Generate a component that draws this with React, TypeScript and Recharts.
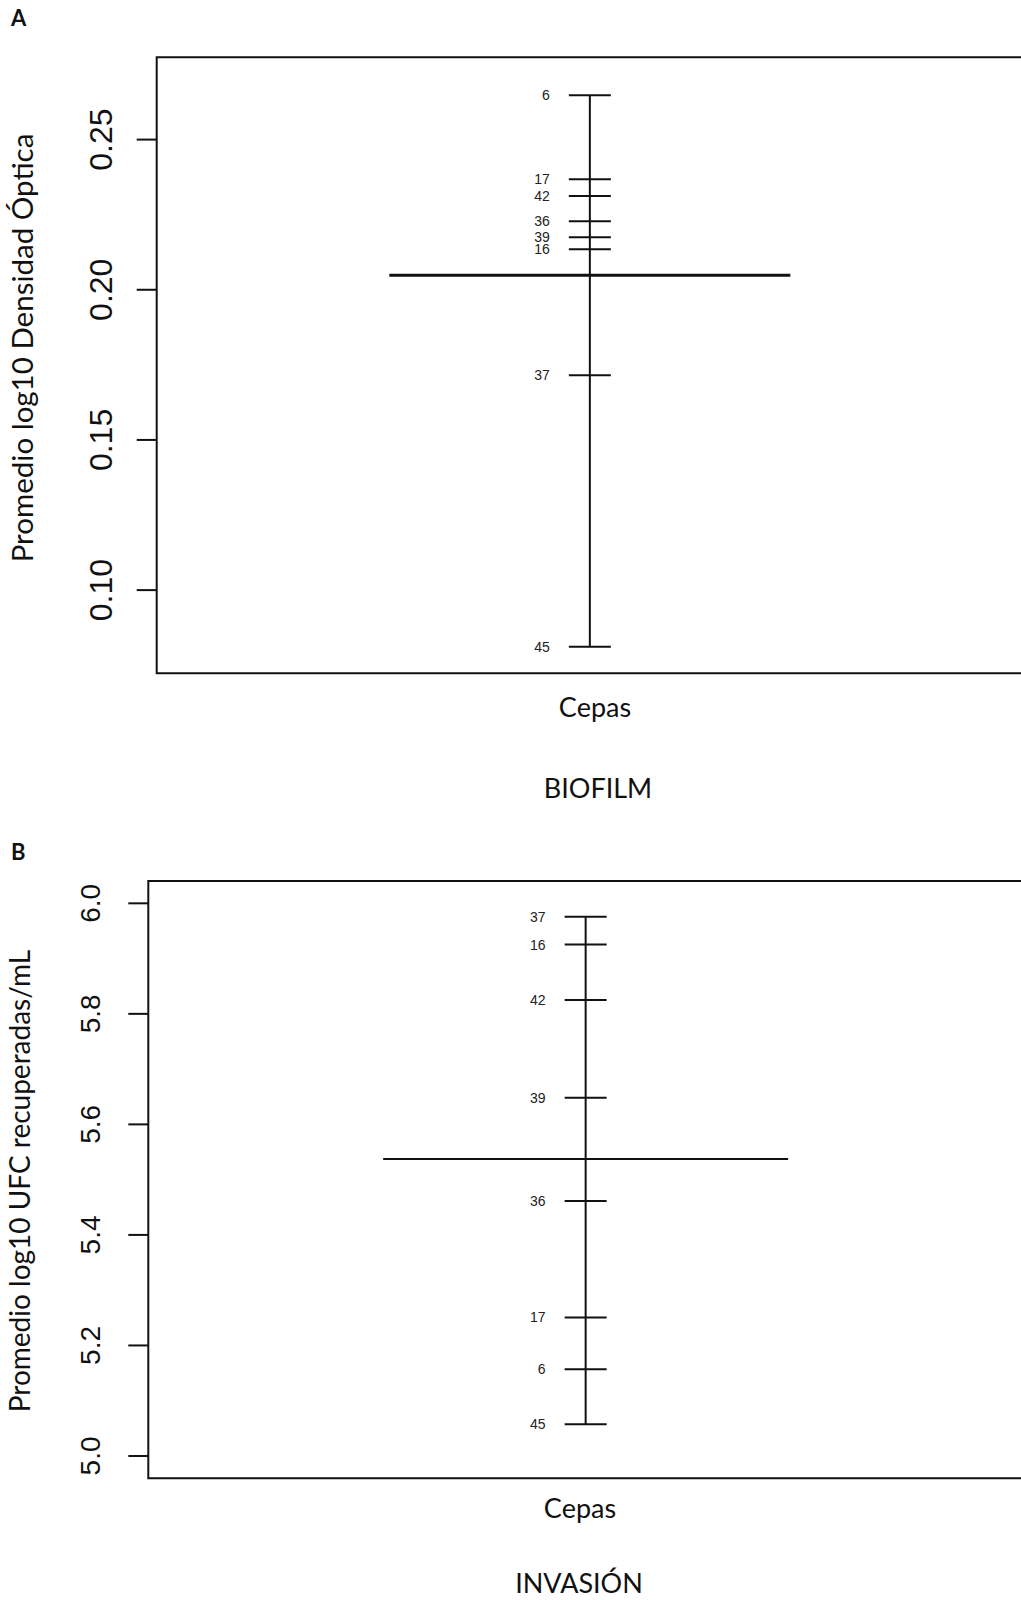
import * as React from "react";
import {
  ScatterChart,
  Scatter,
  XAxis,
  YAxis,
  ReferenceArea,
  ReferenceLine,
} from "recharts";

// ── Datos ──────────────────────────────────────────────────────────────
// A: biofilm, promedio log10 densidad óptica por cepa
const cepasA = ["6", "17", "42", "36", "39", "16", "37", "45"];
const valoresA = [0.2648, 0.2368, 0.2312, 0.2228, 0.2175, 0.2135, 0.1715, 0.0811];
const mediaA = 0.2048;
const ticksA = [0.1, 0.15, 0.2, 0.25];
const dominioA: [number, number] = [0.0723, 0.2774];

// B: invasión, promedio log10 UFC recuperadas/mL por cepa
const cepasB = ["37", "16", "42", "39", "36", "17", "6", "45"];
const valoresB = [5.9758, 5.9253, 5.825, 5.6484, 5.4612, 5.2507, 5.1571, 5.0574];
const mediaB = 5.5372;
const ticksB = [5.0, 5.2, 5.4, 5.6, 5.8, 6.0];
const dominioB: [number, number] = [4.9596, 6.0404];

const INK = "#111";
const CHART_W = 1040;
const PLOT_RIGHT = 1023;

interface PanelProps {
  cepas: string[];
  valores: number[];
  media: number;
  ticks: number[];
  dominio: [number, number];
  decimales: number;
  top: number;
  height: number;
  plotLeft: number;
  plotTop: number;
  plotBottom: number;
  tickMargin: number;
  tickFont: number;
  mediaWidth: number;
}

// ── Panel tipo plot.design ─────────────────────────────────────────────
function DesignPanel(p: PanelProps) {
  const data = p.cepas.map((c, i) => ({ x: 1, y: p.valores[i], cepa: c }));

  const renderTick = (props: any) => {
    const { x, y, payload } = props;
    return (
      <text
        x={x}
        y={y}
        transform={`rotate(-90 ${x} ${y})`}
        textAnchor="middle"
        fontFamily="Liberation Sans, Arial, sans-serif"
        fontSize={p.tickFont}
        fill={INK}
      >
        {Number(payload.value).toFixed(p.decimales)}
      </text>
    );
  };

  const renderNivel = (props: any) => {
    const { cx, cy, payload } = props;
    return (
      <g>
        <line x1={cx - 21} x2={cx + 21} y1={cy} y2={cy} stroke={INK} strokeWidth={2} />
        <text
          x={cx - 40}
          y={cy}
          textAnchor="end"
          dominantBaseline="central"
          fontFamily="Liberation Sans, Arial, sans-serif"
          fontSize={14}
          fill="#222"
        >
          {payload.cepa}
        </text>
      </g>
    );
  };

  return (
    <div style={{ position: "absolute", left: 0, top: p.top }}>
      <ScatterChart
        width={CHART_W}
        height={p.height}
        margin={{
          top: p.plotTop - p.top,
          right: CHART_W - PLOT_RIGHT,
          bottom: p.top + p.height - p.plotBottom,
          left: 0,
        }}
      >
        <XAxis type="number" dataKey="x" domain={[-0.08, 2.08]} hide allowDataOverflow />
        <YAxis
          type="number"
          dataKey="y"
          domain={p.dominio}
          ticks={p.ticks}
          allowDataOverflow
          width={p.plotLeft}
          axisLine={false}
          tickLine={{ stroke: INK, strokeWidth: 2 }}
          tickSize={20}
          tickMargin={p.tickMargin}
          tick={renderTick}
          interval={0}
        />
        <ReferenceArea
          x1={-0.08}
          x2={2.08}
          y1={p.dominio[0]}
          y2={p.dominio[1]}
          fill="none"
          fillOpacity={0}
          stroke={INK}
          strokeWidth={2}
          ifOverflow="visible"
        />
        <ReferenceLine
          segment={[
            { x: 0.5, y: p.media },
            { x: 1.5, y: p.media },
          ]}
          stroke={INK}
          strokeWidth={p.mediaWidth}
        />
        <Scatter
          data={data}
          dataKey="y"
          line={{ stroke: INK, strokeWidth: 2 }}
          shape={renderNivel}
          isAnimationActive={false}
        />
      </ScatterChart>
    </div>
  );
}

// ── Textos ─────────────────────────────────────────────────────────────
const SANS = "Lato, 'Open Sans', sans-serif";

function Textos() {
  return (
    <svg
      width={1021}
      height={1600}
      style={{ position: "absolute", left: 0, top: 0, pointerEvents: "none" }}
    >
      <text x={11} y={26} fontFamily={SANS} fontWeight={700} fontSize={22} fill={INK}>
        A
      </text>
      <text
        x={33}
        y={348}
        transform="rotate(-90 33 348)"
        textAnchor="middle"
        fontFamily={SANS}
        fontSize={29.5}
        fill={INK}
      >
        Promedio log10 Densidad Óptica
      </text>
      <text x={595} y={717} textAnchor="middle" fontFamily={SANS} fontSize={27} fill={INK}>
        Cepas
      </text>
      <text x={598} y={798} textAnchor="middle" fontFamily={SANS} fontSize={27} fill={INK}>
        BIOFILM
      </text>

      <text x={11} y={860} fontFamily={SANS} fontWeight={700} fontSize={22} fill={INK}>
        B
      </text>
      <text
        x={30}
        y={1181}
        transform="rotate(-90 30 1181)"
        textAnchor="middle"
        fontFamily={SANS}
        fontSize={28}
        fill={INK}
      >
        Promedio log10 UFC recuperadas/mL
      </text>
      <text x={580} y={1518} textAnchor="middle" fontFamily={SANS} fontSize={27} fill={INK}>
        Cepas
      </text>
      <text x={579} y={1593} textAnchor="middle" fontFamily={SANS} fontSize={27} fill={INK}>
        INVASIÓN
      </text>
    </svg>
  );
}

export default function App() {
  return (
    <div
      style={{
        position: "absolute",
        left: 0,
        top: 0,
        width: 1021,
        height: 1600,
        overflow: "hidden",
        background: "#fff",
      }}
    >
      <DesignPanel
        cepas={cepasA}
        valores={valoresA}
        media={mediaA}
        ticks={ticksA}
        dominio={dominioA}
        decimales={2}
        top={0}
        height={700}
        plotLeft={156.7}
        plotTop={57.3}
        plotBottom={673.3}
        tickMargin={25}
        tickFont={32}
        mediaWidth={3}
      />
      <DesignPanel
        cepas={cepasB}
        valores={valoresB}
        media={mediaB}
        ticks={ticksB}
        dominio={dominioB}
        decimales={1}
        top={820}
        height={680}
        plotLeft={148.3}
        plotTop={881}
        plotBottom={1478.3}
        tickMargin={28.3}
        tickFont={28}
        mediaWidth={2}
      />
      <Textos />
    </div>
  );
}
